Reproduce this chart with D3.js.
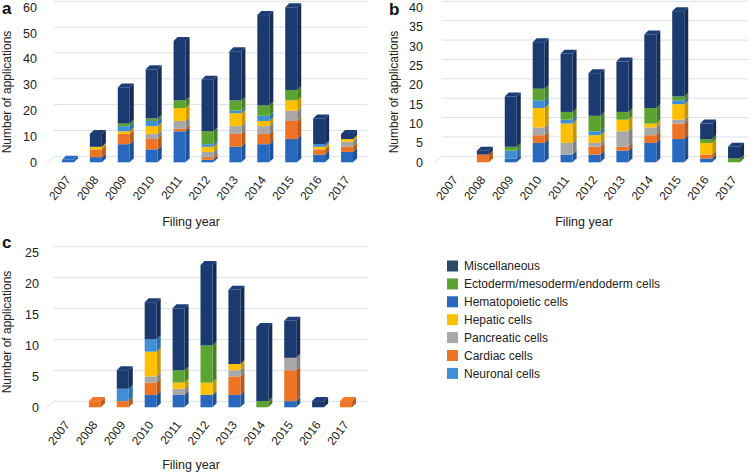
<!DOCTYPE html>
<html><head><meta charset="utf-8">
<script src="https://cdnjs.cloudflare.com/ajax/libs/d3/7.8.5/d3.min.js"></script>
<style>
body{margin:0;background:#fff;}
svg{display:block;font-family:"Liberation Sans",Arial,sans-serif;}
</style></head><body>
<svg id="chart" width="756" height="473"></svg>
<script>
// ---------- DATA ----------
const years = ["2007","2008","2009","2010","2011","2012","2013","2014","2015","2016","2017"];
// legend order (top to bottom)
const categories = ["Miscellaneous","Ectoderm/mesoderm/endoderm cells","Hematopoietic cells","Hepatic cells","Pancreatic cells","Cardiac cells","Neuronal cells"];
// stacking order (bottom to top)
const stackOrder = ["Hematopoietic cells","Cardiac cells","Pancreatic cells","Hepatic cells","Neuronal cells","Ectoderm/mesoderm/endoderm cells","Miscellaneous"];

// Panel a
const aHematopoietic = [1,2,7,5,12,1,6,7,9,3,4];
const aCardiac       = [0,3,4,4,1,1,5,4,7,2,2];
const aPancreatic    = [0,0,0,2,3,2,3,3,4,0,2];
const aHepatic       = [0,1,1,3,5,2,5,2,4,1,1];
const aNeuronal      = [0,0,2,2,0,1,1,2,0,1,0];
const aEctoderm      = [0,0,1,1,3,5,4,4,4,0,0];
const aMisc          = [0,5,14,19,23,20,19,35,32,10,2];
const aTicks = [0,10,20,30,40,50,60];

// Panel b
const bHematopoietic = [0,0,1,5,2,2,3,5,6,1,0];
const bCardiac       = [0,2,0,2,0,2,1,2,4,1,0];
const bPancreatic    = [0,0,0,2,3,1,4,2,1,0,0];
const bHepatic       = [0,0,0,5,5,2,3,1,4,3,0];
const bNeuronal      = [0,0,2,2,1,1,0,0,1,0,0];
const bEctoderm      = [0,0,1,3,2,4,2,4,1,1,1];
const bMisc          = [0,1,13,12,15,11,13,19,22,4,3];
const bTicks = [0,5,10,15,20,25,30,35,40];

// Panel c
const cHematopoietic = [0,0,0,2,2,2,2,0,1,0,0];
const cCardiac       = [0,1,1,2,0,0,3,0,5,0,1];
const cPancreatic    = [0,0,0,1,1,0,1,0,2,0,0];
const cHepatic       = [0,0,0,4,1,2,1,0,0,0,0];
const cNeuronal      = [0,0,2,2,0,0,0,0,0,0,0];
const cEctoderm      = [0,0,0,0,2,6,0,1,0,0,0];
const cMisc          = [0,0,3,6,10,13,12,12,6,1,0];
const cTicks = [0,5,10,15,20,25];

const colors = {
  "Miscellaneous":"#1b3a70",
  "Ectoderm/mesoderm/endoderm cells":"#5ca432",
  "Hematopoietic cells":"#2868be",
  "Hepatic cells":"#ffc000",
  "Pancreatic cells":"#a8a8a8",
  "Cardiac cells":"#ec7424",
  "Neuronal cells":"#3f8fd6"
};
const legendColors = Object.assign({}, colors, {"Miscellaneous":"#2c4a6c"});

function table(h,c,p,hp,n,e,m){
  return years.map((y,i)=>({year:y,
    "Hematopoietic cells":h[i],"Cardiac cells":c[i],"Pancreatic cells":p[i],
    "Hepatic cells":hp[i],"Neuronal cells":n[i],"Ectoderm/mesoderm/endoderm cells":e[i],
    "Miscellaneous":m[i]}));
}

const panels = [
  {label:"a", data:table(aHematopoietic,aCardiac,aPancreatic,aHepatic,aNeuronal,aEctoderm,aMisc),
   ticks:aTicks, xr:[54,361], y0:162.3, y1:7.3, gx0:50, gx1:367, tickX:37, ylabX:7, ylabY:92, xlabY:226, xlabX:191, plX:2, plY:14},
  {label:"b", data:table(bHematopoietic,bCardiac,bPancreatic,bHepatic,bNeuronal,bEctoderm,bMisc),
   ticks:bTicks, xr:[441,748], y0:162.3, y1:7.3, gx0:438, gx1:748, tickX:423, ylabX:394, ylabY:92, xlabY:226, xlabX:584, plX:389, plY:15},
  {label:"c", data:table(cHematopoietic,cCardiac,cPancreatic,cHepatic,cNeuronal,cEctoderm,cMisc),
   ticks:cTicks, xr:[53,360], y0:407.3, y1:252.7, gx0:50, gx1:367, tickX:39, ylabX:7, ylabY:332, xlabY:469, xlabX:191, plX:2, plY:248}
];

const svg = d3.select("#chart");
const W = 12, DX = 4, DY = 4, GX = 4, GY = 6;
const stack = d3.stack().keys(stackOrder);

panels.forEach(p=>{
  const g = svg.append("g");
  const x = d3.scaleBand().domain(years).range(p.xr);
  const maxT = p.ticks[p.ticks.length-1];
  const y = d3.scaleLinear().domain([0,maxT]).range([p.y0,p.y1]);

  // gridlines (back wall)
  p.ticks.forEach(t=>{
    g.append("line").attr("x1",p.gx0+GX).attr("x2",p.gx1).attr("y1",y(t)-GY).attr("y2",y(t)-GY)
      .attr("stroke","#dde2e8").attr("stroke-width",1);
  });
  g.append("line").attr("x1",p.gx0-4).attr("y1",y(0)+1).attr("x2",p.gx0+GX).attr("y2",y(0)-GY)
    .attr("stroke","#dde2e8");

  // y tick labels
  const yAxis = d3.axisLeft(y).tickValues(p.ticks).tickSize(0).tickPadding(0);
  const ya = g.append("g").attr("transform",`translate(${p.tickX},0)`).call(yAxis);
  ya.select(".domain").remove();
  ya.selectAll("text").attr("font-size","12.5px").attr("fill","#222").attr("font-family","Liberation Sans, Arial, sans-serif");

  // x tick labels
  const xAxis = d3.axisBottom(x).tickSize(0).tickPadding(0);
  const xa = g.append("g").attr("transform",`translate(0,${p.y0+15})`).call(xAxis);
  xa.select(".domain").remove();
  xa.selectAll("text").attr("font-size","12px").attr("fill","#222")
    .attr("font-family","Liberation Sans, Arial, sans-serif")
    .attr("text-anchor","end").attr("dy","0.35em").attr("transform","rotate(-52)");

  // bars
  const series = stack(p.data);
  const cx = d => x(d.data.year) + x.bandwidth()/2 - W/2;
  const topIdx = p.data.map(d=>{
    let k=-1; stackOrder.forEach((s,i)=>{ if(d[s]>0) k=i; }); return k;
  });
  series.forEach((s,si)=>{
    const col = d3.color(colors[s.key]);
    const side = col.darker(0.7);
    const top = col.brighter(0.15);
    s.forEach((d,i)=>{
      if(d[1]-d[0] <= 0) return;
      const x0 = cx(d), yt = y(d[1]), yb = y(d[0]);
      g.append("path").attr("d",`M${x0+W},${yt}L${x0+W+DX},${yt-DY}L${x0+W+DX},${yb-DY}L${x0+W},${yb}Z`)
        .attr("fill",side);
      g.append("rect").attr("x",x0).attr("y",yt).attr("width",W).attr("height",yb-yt).attr("fill",col);
      if(topIdx[i]===si){
        g.append("path").attr("d",`M${x0},${yt}L${x0+DX},${yt-DY}L${x0+W+DX},${yt-DY}L${x0+W},${yt}Z`)
          .attr("fill",top);
      }
    });
  });

  // axis titles
  g.append("text").attr("x",p.xlabX).attr("y",p.xlabY).attr("text-anchor","middle")
    .attr("font-size","12.5px").attr("fill","#222").text("Filing year");
  g.append("text").attr("transform",`translate(${p.ylabX+4},${p.ylabY}) rotate(-90)`)
    .attr("text-anchor","middle").attr("font-size","12px").attr("fill","#222").text("Number of applications");
  g.append("text").attr("x",p.plX).attr("y",p.plY).attr("font-size","17px").attr("font-weight","bold")
    .attr("fill","#111").text(p.label);
});

// legend
const lg = svg.append("g").attr("transform","translate(447,266)");
categories.forEach((c,i)=>{
  const row = lg.append("g").attr("transform",`translate(0,${i*17.9})`);
  row.append("rect").attr("x",0).attr("y",-5.5).attr("width",11).attr("height",11).attr("fill",legendColors[c]);
  row.append("text").attr("x",17).attr("y",0).attr("dy","0.35em").attr("font-size","12px").attr("fill","#222").text(c);
});
</script>
</body></html>
